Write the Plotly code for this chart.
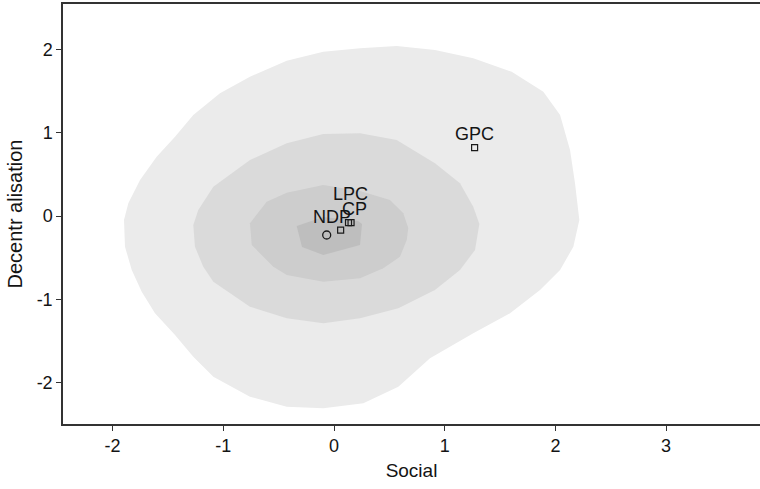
import plotly.graph_objects as go

# ---- data ----
# density contour outlines (Social, Decentralisation), outer -> inner
outer_x = [-0.097, 0.235, 0.566, 0.912, 1.258, 1.605, 1.891, 2.042, 2.132, 2.177, 2.216, 2.162, 2.042,
           1.861, 1.590, 1.258, 0.867, 0.581, 0.265, -0.097, -0.427, -0.759, -1.090, -1.271, -1.436,
           -1.617, -1.737, -1.827, -1.888, -1.897, -1.858, -1.752, -1.602, -1.436, -1.271, -1.030,
           -0.759, -0.427]
outer_y = [1.972, 2.013, 2.041, 1.993, 1.893, 1.732, 1.492, 1.212, 0.792, 0.393, -0.048, -0.369, -0.648,
           -0.888, -1.168, -1.408, -1.708, -2.049, -2.248, -2.308, -2.289, -2.169, -1.929, -1.689, -1.429,
           -1.168, -0.909, -0.648, -0.369, -0.048, 0.152, 0.432, 0.712, 0.952, 1.212, 1.473,
           1.672, 1.864]

mid_x = [-0.097, 0.235, 0.566, 0.912, 1.138, 1.258, 1.313, 1.274, 1.138, 0.912, 0.581, 0.235, -0.097,
         -0.427, -0.759, -1.090, -1.181, -1.256, -1.271, -1.226, -1.090, -0.759, -0.427]
mid_y = [0.984, 0.993, 0.912, 0.633, 0.393, 0.112, -0.096, -0.408, -0.648, -0.888, -1.108, -1.228, -1.288,
         -1.228, -1.089, -0.789, -0.609, -0.369, -0.108, 0.072, 0.352, 0.672, 0.873]

inner_x = [-0.097, 0.235, 0.506, 0.626, 0.671, 0.657, 0.596, 0.445, 0.235, -0.097, -0.427, -0.548,
           -0.743, -0.759, -0.608, -0.427]
inner_y = [0.372, 0.300, 0.192, 0.032, -0.144, -0.288, -0.489, -0.628, -0.748, -0.789, -0.708, -0.609,
           -0.348, -0.088, 0.172, 0.280]

core_x = [-0.337, -0.097, 0.217, 0.253, 0.235, -0.097, -0.289]
core_y = [-0.120, -0.012, -0.060, -0.096, -0.348, -0.468, -0.372]

# parties
party_names = ["GPC", "LPC", "CP", "NDP"]
party_social = [1.27, 0.154, 0.131, 0.060]
party_decentr = [0.82, -0.080, -0.080, -0.170]

# unlabelled point (hollow circle)
other_social = [-0.066]
other_decentr = [-0.228]

x_ticks = [-2, -1, 0, 1, 2, 3]
x_tick_labels = ["-2", "-1", "0", "1", "2", "3"]
y_ticks = [-2, -1, 0, 1, 2]
y_tick_labels = ["-2", "-1", "0", "1", "2"]

# ---- styles ----
fills = ["#ebebeb", "#dadada", "#cdcdcd", "#bebebe"]
label_shift = {"GPC": (0, 14), "LPC": (-1, 29), "CP": (6, 14), "NDP": (-9, 13)}
FONT = "Liberation Sans, Arial, Helvetica, sans-serif"
TXT = "#141414"

fig = go.Figure()
for (xs, ys), col in zip([(outer_x, outer_y), (mid_x, mid_y), (inner_x, inner_y), (core_x, core_y)], fills):
    fig.add_trace(go.Scatter(x=xs + xs[:1], y=ys + ys[:1], mode="lines", fill="toself",
                             fillcolor=col, line=dict(width=0, color=col), hoverinfo="skip",
                             showlegend=False))

fig.add_trace(go.Scatter(x=party_social, y=party_decentr, mode="markers",
                         marker=dict(symbol="square-open", size=6, color="#1a1a1a",
                                     line=dict(width=1.2, color="#1a1a1a")),
                         showlegend=False))
fig.add_trace(go.Scatter(x=other_social, y=other_decentr, mode="markers",
                         marker=dict(symbol="circle-open", size=8, color="#1a1a1a",
                                     line=dict(width=1.3, color="#1a1a1a")),
                         showlegend=False))

for name, sx, sy in zip(party_names, party_social, party_decentr):
    dx, dy = label_shift[name]
    fig.add_annotation(x=sx, y=sy, text=name, showarrow=False, xshift=dx, yshift=dy,
                       font=dict(family=FONT, size=18, color=TXT))

axis_common = dict(showgrid=False, zeroline=False, showline=True, linecolor="#333333", linewidth=1.5,
                   ticks="outside", ticklen=5, tickwidth=1.2, tickcolor="#333333",
                   tickfont=dict(family=FONT, size=18, color=TXT))

fig.update_layout(
    width=760, height=489,
    margin=dict(l=63, r=0, t=4, b=65),
    plot_bgcolor="white", paper_bgcolor="white",
    xaxis=dict(range=[-2.448, 3.848], tickvals=x_ticks, ticktext=x_tick_labels, mirror=True,
               title=dict(text="Social", font=dict(family=FONT, size=19, color=TXT), standoff=8),
               **axis_common),
    yaxis=dict(range=[-2.497, 2.545], tickvals=y_ticks, ticktext=y_tick_labels, mirror=False,
               title=dict(text="Decentr alisation", font=dict(family=FONT, size=20, color=TXT), standoff=9),
               **axis_common),
)

fig.write_html("out.html")
